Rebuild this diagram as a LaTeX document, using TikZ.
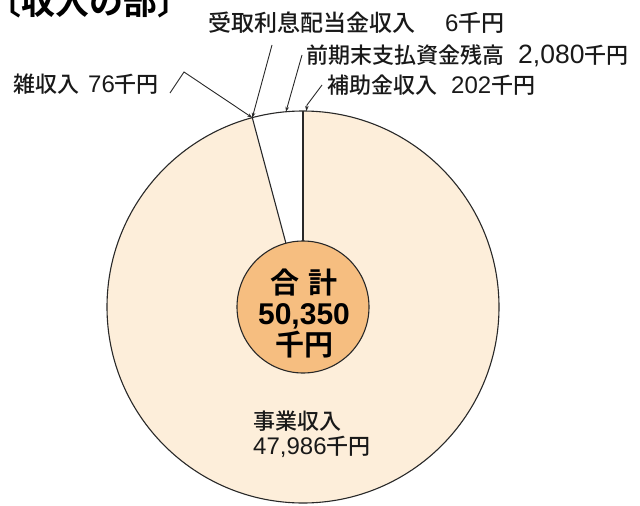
\documentclass[tikz,border=0pt]{standalone}
\usepackage{fontspec}
\newfontfamily\jp{Noto Sans CJK JP}[UprightFont={* Medium}, BoldFont={* Bold}]
\newfontfamily\lat{Liberation Sans}
\newcommand\dg[1]{{\lat\fontsize{24}{25}\selectfont #1}}
\newcommand\dgl[1]{{\lat\fontsize{26.5}{25}\selectfont #1}}
\newcommand\dgb[1]{{\lat\bfseries\fontsize{30}{31}\selectfont #1}}
\usetikzlibrary{arrows.meta}
\definecolor{outerfill}{RGB}{253,238,218}
\definecolor{innerfill}{RGB}{246,190,128}
\definecolor{inkline}{RGB}{40,40,40}
\tikzset{
  pieline/.style={draw=inkline, line width=1.1pt},
  lbl/.style={inner sep=0pt, anchor=west, text=black!90, font=\jp\fontsize{22}{25}\selectfont},
  leader/.style={draw=inkline, line width=0.9pt, -{Stealth[length=5pt,width=3.5pt]}},
}
\begin{document}
\begin{tikzpicture}[x=1pt,y=1pt]
\useasboundingbox (0,0) rectangle (640,-506);
\coordinate (O) at (303,-307);
% outer pie
\node[circle, minimum size=392pt, inner sep=0pt, outer sep=0pt, fill=outerfill] (pie) at (O) {};
\fill[white] (O) -- (pie.90) arc[start angle=90, end angle=105.2, radius=196] -- cycle;
\draw[pieline] (O) circle[radius=196];
% inner circle
\node[circle, minimum size=132pt, inner sep=0pt, outer sep=0pt, fill=innerfill, pieline] (ctr) at (O) {};
\draw[pieline] (ctr.90) -- (pie.90);
\draw[pieline] (ctr.105.2) -- (pie.105.2);
% centre text
\node[inner sep=0pt, align=center, font=\jp\bfseries\fontsize{29}{31}\selectfont] (total) at (304,-313) {合\hspace{10pt}計\\\dgb{50,350}\\千円};
% title
\node[inner sep=0pt, anchor=west, font=\jp\bfseries\fontsize{34}{34}\selectfont] (title) at (-13,-2) {〔収入の部〕};
% labels
\node[lbl, font=\jp\fontsize{23}{25}\selectfont] (l1) at (208,-23) {受取利息配当金収入\hspace{30pt}\dg{6}千円};
\node[lbl] (l2) at (306,-56) {前期末支払資金残高\hspace{14pt}\dgl{2,080}千円};
\node[lbl] (l3) at (327,-85) {補助金収入\hspace{14pt}\dg{202}千円};
\node[lbl] (l4) at (13,-84) {雑収入\hspace{9pt}\dg{76}千円};
\node[lbl, align=left] (l5) at (253,-434) {事業収入\\\dg{47,986}千円};
% leader lines
\coordinate (z0) at (170,-93);
\coordinate (z1) at (184,-72);
\coordinate (u0) at (272,-45);
\coordinate (m0) at (302,-55);
\coordinate (h0) at (322,-85);
\coordinate (h1) at (307,-105);
\draw[leader] (z0) -- (z1) -- (pie.105.6);
\draw[leader] (u0) -- (pie.105);
\draw[leader] (m0) -- (pie.95);
\draw[leader] (h0) -- (h1) -- (pie.89.6);
\end{tikzpicture}
\end{document}
